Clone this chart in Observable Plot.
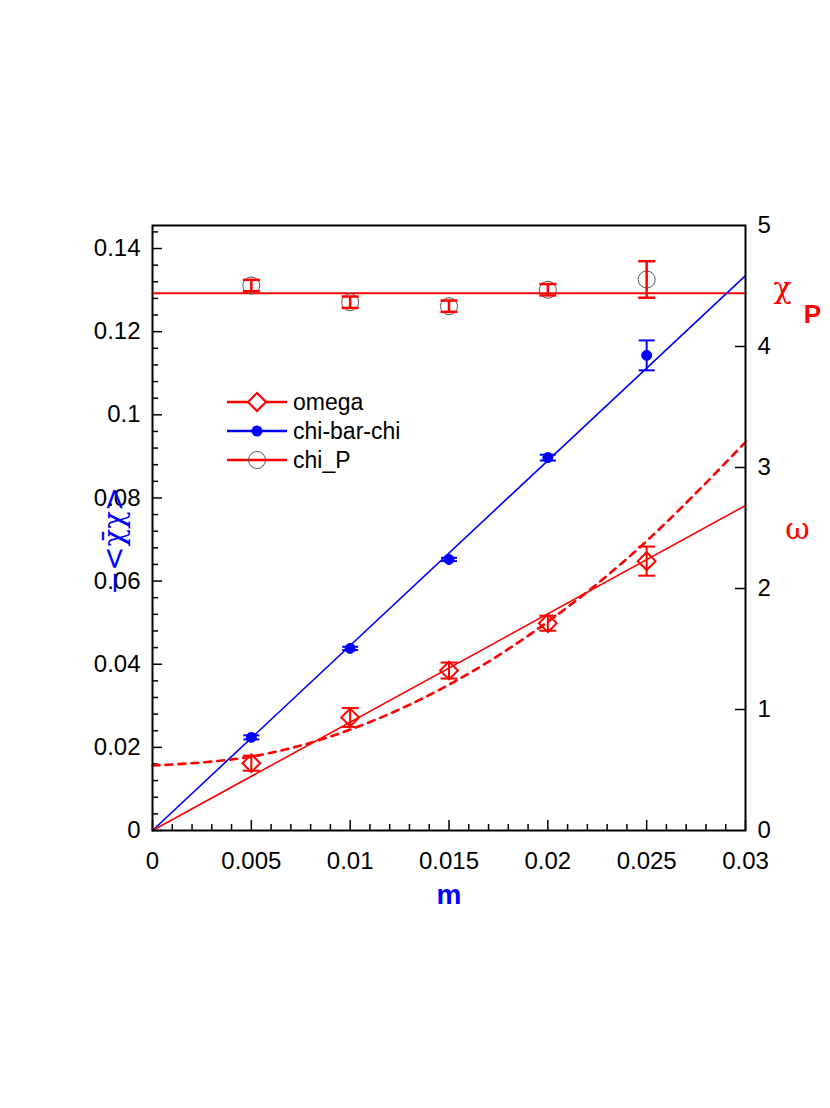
<!DOCTYPE html>
<html><head><meta charset="utf-8">
<script src="https://cdn.jsdelivr.net/npm/d3@7"></script>
<script src="https://cdn.jsdelivr.net/npm/@observablehq/plot@0.6"></script>
<style>
body{margin:0;background:#fff;}
#wrap{position:relative;width:830px;height:1108px;font-family:"Liberation Sans",Arial,Helvetica,sans-serif;}
</style>
</head><body><div id="wrap"></div>
<script>
// ---- data ----
const mValues = [0.005, 0.01, 0.015, 0.02, 0.025];
const chiBarChi = [0.0224, 0.0438, 0.0652, 0.0897, 0.1143];
const chiBarChiErr = [0.0005, 0.0004, 0.0004, 0.0007, 0.0036];
const omega = [0.556, 0.934, 1.322, 1.713, 2.226];
const omegaErr = [0.062, 0.078, 0.066, 0.062, 0.12];
const chiP = [4.504, 4.366, 4.333, 4.469, 4.554];
const chiPErr = [0.047, 0.047, 0.047, 0.047, 0.151];
const fitM = [0, 0.03];
const chiBarChiFit = [0, 0.1335];
const omegaFit = [0, 2.686];
const chiPFit = [4.44, 4.44];
const omegaCurveM = [0, 0.005, 0.01, 0.015, 0.02, 0.025, 0.03];
const omegaCurve = [0.537, 0.611, 0.834, 1.205, 1.725, 2.393, 3.21];
const xTicks = [0, 0.005, 0.01, 0.015, 0.02, 0.025, 0.03];
const leftTicks = [0, 0.02, 0.04, 0.06, 0.08, 0.1, 0.12, 0.14];
const rightTicks = [0, 1, 2, 3, 4, 5];
const legendLabels = ["omega", "chi-bar-chi", "chi_P"];

// ---- layout ----
const W = 830, H = 1108, ML = 152, MR = 85, MT = 225, MB = 278;
const FW = W - ML - MR, FH = H - MT - MB;
const YMAX = 0.14554;          // left axis top
const K = YMAX / 5;            // right axis (0..5) -> left units
const R = v => v * K;
const SERIF = '"DejaVu Serif", "Liberation Serif", serif';

const xMinor = d3.range(0, 31).filter(i => i % 5 !== 0).map(i => i * 0.001);
const yMinor = d3.range(0, 37).filter(i => i % 5 !== 0).map(i => i * 0.004);

const pts = mValues.map((m, i) => ({
  m,
  c: chiBarChi[i], cLo: chiBarChi[i] - chiBarChiErr[i], cHi: chiBarChi[i] + chiBarChiErr[i],
  o: R(omega[i]), oLo: R(omega[i] - omegaErr[i]), oHi: R(omega[i] + omegaErr[i]),
  p: R(chiP[i]), pLo: R(chiP[i] - chiPErr[i]), pHi: R(chiP[i] + chiPErr[i])
}));
const fits = fitM.map((m, i) => ({m, c: chiBarChiFit[i], o: R(omegaFit[i]), p: R(chiPFit[i])}));
const curve = omegaCurveM.map((m, i) => ({m, v: R(omegaCurve[i])}));

const cap = {draw(ctx, size) { const r = Math.sqrt(size / Math.PI); ctx.moveTo(-r, 0); ctx.lineTo(r, 0); }};
const fmt = d => String(+d.toFixed(4));

const chart = Plot.plot({
  width: W, height: H,
  marginLeft: ML, marginRight: MR, marginTop: MT, marginBottom: MB,
  x: {domain: [0, 0.03]},
  y: {domain: [0, YMAX]},
  style: {fontFamily: '"Liberation Sans", Arial, Helvetica, sans-serif', background: "white", color: "black"},
  marks: [
    // axes labels
    Plot.axisX(xTicks, {tickSize: 0, tickPadding: 21, tickFormat: fmt, fontSize: 24, label: null}),
    Plot.axisY(leftTicks, {anchor: "left", tickSize: 0, tickPadding: 12, tickFormat: fmt, fontSize: 24, label: null}),
    Plot.axisY(rightTicks.map(R), {anchor: "right", tickSize: 0, tickPadding: 12, tickFormat: d => String(Math.round(d / K)), fontSize: 24, label: null}),
    // inward ticks
    Plot.tickX(xTicks, {x: d => d, insetTop: FH - 10, stroke: "black", strokeWidth: 1.5}),
    Plot.tickX(xMinor, {x: d => d, insetTop: FH - 6, stroke: "black", strokeWidth: 1.5}),
    Plot.tickY(leftTicks, {y: d => d, insetRight: FW - 10, stroke: "black", strokeWidth: 1.5}),
    Plot.tickY(yMinor, {y: d => d, insetRight: FW - 6, stroke: "black", strokeWidth: 1.5}),
    Plot.tickY(rightTicks.slice(1, -1), {y: d => R(d), insetLeft: FW - 10, stroke: "black", strokeWidth: 1.5}),
    // fits
    Plot.line(fits, {x: "m", y: "p", stroke: "red", strokeWidth: 2}),
    Plot.line(fits, {x: "m", y: "c", stroke: "blue", strokeWidth: 1.6}),
    Plot.line(fits, {x: "m", y: "o", stroke: "red", strokeWidth: 1.6}),
    Plot.line(curve, {x: "m", y: "v", stroke: "red", strokeWidth: 2.6, strokeDasharray: "7,6", curve: "natural"}),
    // chi_P
    Plot.dot(pts, {x: "m", y: "p", r: 8.5, stroke: "#555", strokeWidth: 1, fill: "none"}),
    Plot.ruleX(pts, {x: "m", y1: "pLo", y2: "pHi", stroke: "red", strokeWidth: 2.5}),
    Plot.dot(pts, {x: "m", y: "pLo", symbol: cap, r: 8.5, stroke: "red", strokeWidth: 2.5, fill: "none"}),
    Plot.dot(pts, {x: "m", y: "pHi", symbol: cap, r: 8.5, stroke: "red", strokeWidth: 2.5, fill: "none"}),
    // omega
    Plot.ruleX(pts, {x: "m", y1: "oLo", y2: "oHi", stroke: "red", strokeWidth: 2}),
    Plot.dot(pts, {x: "m", y: "oLo", symbol: cap, r: 8.5, stroke: "red", strokeWidth: 2, fill: "none"}),
    Plot.dot(pts, {x: "m", y: "oHi", symbol: cap, r: 8.5, stroke: "red", strokeWidth: 2, fill: "none"}),
    Plot.dot(pts, {x: "m", y: "o", symbol: "diamond2", r: 8, stroke: "red", strokeWidth: 2, fill: "none"}),
    // chi-bar-chi
    Plot.ruleX(pts, {x: "m", y1: "cLo", y2: "cHi", stroke: "blue", strokeWidth: 2}),
    Plot.dot(pts, {x: "m", y: "cLo", symbol: cap, r: 8, stroke: "blue", strokeWidth: 2, fill: "none"}),
    Plot.dot(pts, {x: "m", y: "cHi", symbol: cap, r: 8, stroke: "blue", strokeWidth: 2, fill: "none"}),
    Plot.dot(pts, {x: "m", y: "c", r: 5, fill: "blue", stroke: "blue", strokeWidth: 1}),
    Plot.frame({stroke: "black", strokeWidth: 2}),
    // axis titles
    Plot.text(["m"], {frameAnchor: "bottom", dy: 65, textAnchor: "middle", lineAnchor: "middle", fontWeight: "bold", fill: "blue", fontSize: 28}),
    Plot.text(["\u2212<\u03C7\u0304\u03C7>"], {frameAnchor: "left", dx: -38, dy: 13, rotate: -90, textAnchor: "middle", lineAnchor: "middle", fill: "blue", fontSize: 29, fontFamily: SERIF}),
    Plot.text(["\u03C7"], {frameAnchor: "top-right", dx: 37, dy: 63, textAnchor: "middle", lineAnchor: "middle", fill: "red", fontSize: 30, fontFamily: SERIF}),
    Plot.text(["P"], {frameAnchor: "top-right", dx: 67, dy: 89, textAnchor: "middle", lineAnchor: "middle", fill: "red", fontWeight: "bold", fontSize: 26}),
    Plot.text(["\u03C9"], {frameAnchor: "top-right", dx: 52, dy: 304, textAnchor: "middle", lineAnchor: "middle", fill: "red", fontSize: 30, fontFamily: SERIF})
  ]
});
const wrap = document.getElementById("wrap");
wrap.appendChild(chart);

// ---- legend overlay ----
const leg = d3.select(wrap).append("svg")
  .attr("width", W).attr("height", H)
  .style("position", "absolute").style("left", 0).style("top", 0);
const rows = [
  {label: legendLabels[0], line: "red", y: 402, mk: "diamond"},
  {label: legendLabels[1], line: "blue", y: 431, mk: "dot"},
  {label: legendLabels[2], line: "red", y: 460, mk: "circle"}
];
rows.forEach(r => {
  const g = leg.append("g").attr("transform", `translate(0,${r.y})`);
  g.append("line").attr("x1", 227).attr("x2", 287).attr("y1", 0).attr("y2", 0)
    .attr("stroke", r.line).attr("stroke-width", 2.5);
  if (r.mk === "diamond") {
    g.append("path").attr("d", d3.symbol(d3.symbolDiamond2, 206)()).attr("transform", "translate(257,0)")
      .attr("fill", "white").attr("stroke", "red").attr("stroke-width", 2.2);
  } else if (r.mk === "dot") {
    g.append("circle").attr("cx", 257).attr("cy", 0).attr("r", 5.5).attr("fill", "blue");
  } else {
    g.append("circle").attr("cx", 257).attr("cy", 0).attr("r", 8.5).attr("fill", "none").attr("stroke", "#555").attr("stroke-width", 1);
  }
  g.append("text").attr("x", 293).attr("y", 0).attr("dy", "0.35em")
    .attr("font-family", '"Liberation Sans", Arial, sans-serif').attr("font-size", 23).attr("fill", "black").text(r.label);
});
</script>
</body></html>
